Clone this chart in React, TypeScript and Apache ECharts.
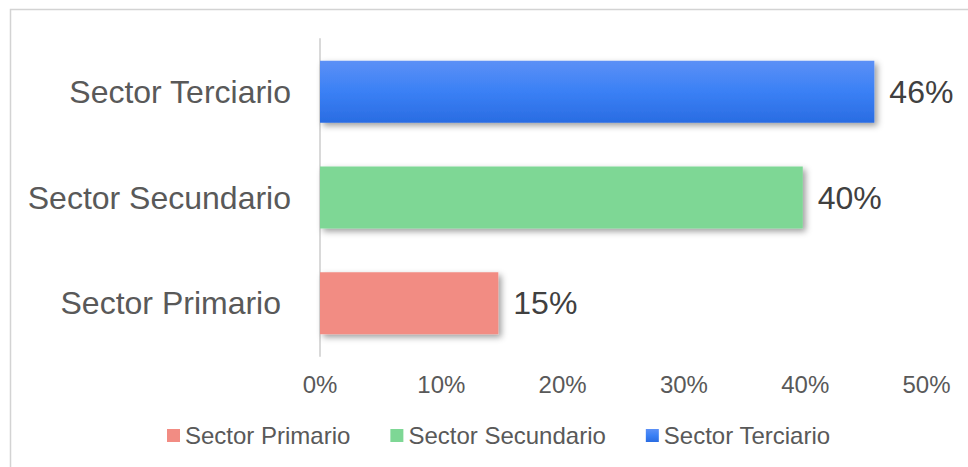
import React, { useEffect, useRef } from "react";
import * as echarts from "echarts";

const categories = ["Sector Primario", "Sector Secundario", "Sector Terciario"];
const values = [14.7, 39.8, 45.7];
const xTicks = { min: 0, max: 50, interval: 10 };

const FONT = "'Liberation Sans', Arial, sans-serif";

export default function App() {
  const ref = useRef<HTMLDivElement>(null);
  useEffect(() => {
    if (!ref.current) return;
    const chart = echarts.init(ref.current, null, { renderer: "svg" });
    const colors: any[] = [
      "#F28C83",
      "#7ED795",
      new echarts.graphic.LinearGradient(0, 0, 0, 1, [
        { offset: 0, color: "#5C90F6" },
        { offset: 0.5, color: "#3A80F5" },
        { offset: 1, color: "#2A6CE2" },
      ]),
    ];
    const series = categories.map((name, i) => ({
      name,
      type: "bar",
      stack: "total",
      barWidth: 62,
      data: categories.map((_, j) => (j === i ? values[i] : "-")),
      itemStyle: {
        color: colors[i],
        shadowColor: "rgba(0,0,0,0.38)",
        shadowBlur: 6,
        shadowOffsetX: 3,
        shadowOffsetY: 3,
      },
      label: {
        show: true,
        position: "right",
        distance: 15,
        fontFamily: FONT,
        fontSize: 32,
        color: "#404040",
        formatter: (p: any) => Math.round(p.value) + "%",
      },
    }));
    chart.setOption({
      animation: false,
      backgroundColor: "#fff",
      graphic: [
        {
          type: "rect",
          shape: { x: 10.5, y: 9.5, width: 1000, height: 500 },
          style: { fill: "none", stroke: "#D3D3D3", lineWidth: 1.5 },
          silent: true,
        },
      ],
      grid: { left: 320, right: 41.5, top: 39, bottom: 111, containLabel: false },
      legend: {
        left: 162,
        top: 418.5,
        itemWidth: 13,
        itemHeight: 13,
        itemGap: 40,
        icon: "rect",
        textStyle: { fontFamily: FONT, fontSize: 24, color: "#595959" },
        data: categories,
      },
      xAxis: {
        type: "value",
        min: xTicks.min,
        max: xTicks.max,
        interval: xTicks.interval,
        splitLine: { show: false },
        axisLine: { show: false },
        axisTick: { show: false },
        axisLabel: {
          formatter: "{value}%",
          fontFamily: FONT,
          fontSize: 24,
          color: "#595959",
          margin: 16,
        },
      },
      yAxis: {
        type: "category",
        data: categories,
        axisLine: { show: true, lineStyle: { color: "#D9D9D9", width: 2 } },
        axisTick: { show: false },
        axisLabel: {
          margin: 29,
          fontFamily: FONT,
          fontSize: 32,
          color: "#595959",
          formatter: (v: string) => (v === "Sector Primario" ? "{p|" + v + "}" : "{n|" + v + "}"),
          rich: {
            p: { fontFamily: FONT, fontSize: 32, color: "#595959", padding: [0, 10, 0, 0] },
            n: { fontFamily: FONT, fontSize: 32, color: "#595959" },
          },
        },
      },
      series,
    });
    return () => chart.dispose();
  }, []);
  return (
    <div
      ref={ref}
      style={{ position: "fixed", left: 0, top: 0, width: 968, height: 467 }}
    />
  );
}
